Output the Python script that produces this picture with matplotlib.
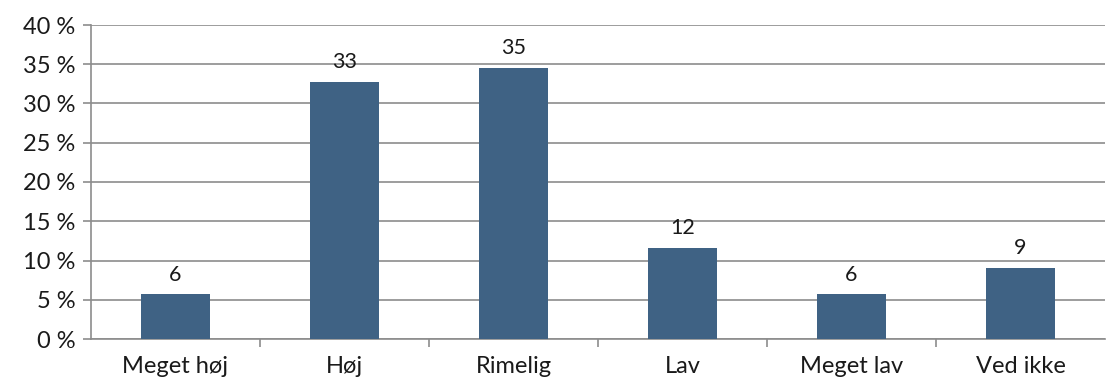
import matplotlib.pyplot as plt
from matplotlib.ticker import FuncFormatter

# Data
categories = ['Meget høj', 'Høj', 'Rimelig', 'Lav', 'Meget lav', 'Ved ikke']
values = [5.7, 32.8, 34.5, 11.6, 5.7, 9.1]
labels = ['6', '33', '35', '12', '6', '9']

plt.rcParams['font.family'] = ['Lato', 'DejaVu Sans']

fig = plt.figure(figsize=(11.09, 3.83), dpi=100)
ax = fig.add_axes([91 / 1109, 44 / 383, 1014 / 1109, 314 / 383])

bars = ax.bar(range(len(categories)), values, width=0.41, color='#3F6284', zorder=3)
for b, lab in zip(bars, labels):
    ax.annotate(lab, (b.get_x() + b.get_width() / 2, b.get_height()),
                xytext=(0, 7), textcoords='offset points',
                ha='center', va='bottom', fontsize=15.5, color='#1a1a1a', zorder=4)

ax.set_ylim(0, 40)
ax.set_xlim(-0.5, len(categories) - 0.5)
ax.set_yticks(range(0, 41, 5))
ax.yaxis.set_major_formatter(FuncFormatter(lambda v, p: f'{int(v)} %'))
ax.grid(axis='y', color='#8c8c8c', linewidth=1.2, zorder=0)

# category ticks at the boundaries, labels centred
ax.set_xticks([i + 0.5 for i in range(len(categories) - 1)], minor=True)
ax.set_xticks(range(len(categories)))
ax.set_xticklabels(categories, fontsize=17, color='#1a1a1a')
ax.tick_params(axis='x', which='major', length=0, pad=12)
ax.tick_params(axis='x', which='minor', length=6, color='#8c8c8c', width=1.2)
ax.tick_params(axis='y', length=6, color='#8c8c8c', width=1.2, labelsize=17,
               labelcolor='#1a1a1a', pad=5)

for s in ['top', 'right']:
    ax.spines[s].set_visible(False)
ax.spines['left'].set_color('#8c8c8c')
ax.spines['left'].set_linewidth(1.2)
ax.spines['bottom'].set_color('#8c8c8c')
ax.spines['bottom'].set_linewidth(1.2)

plt.savefig('out.png', dpi=100)
